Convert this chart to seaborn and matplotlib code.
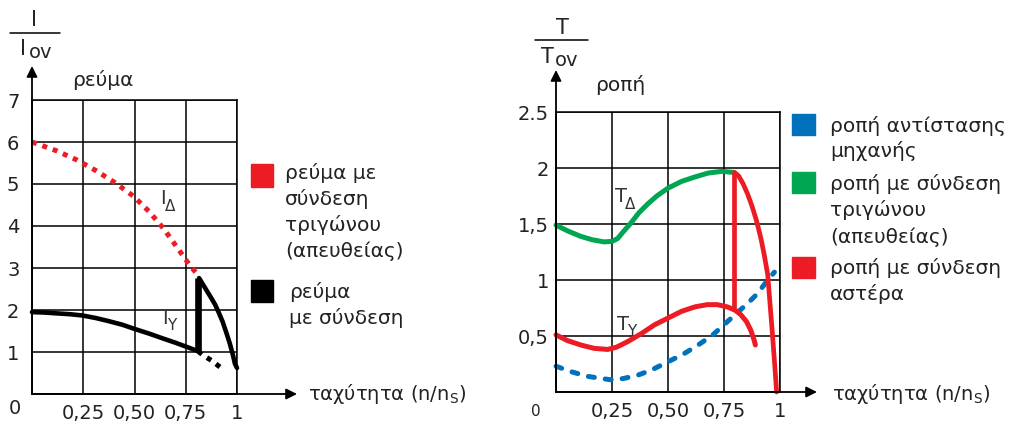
import matplotlib
matplotlib.use('Agg')
import matplotlib.pyplot as plt
from matplotlib.patches import Rectangle
from matplotlib.lines import Line2D
import seaborn as sns

sns.set_style('white')
plt.rcParams['font.family'] = ['DejaVu Sans']
plt.rcParams['mathtext.fontset'] = 'dejavusans'

# --- data ---
# left panel: current
i_delta_x = [0, 0.12, 0.22, 0.315, 0.405, 0.495, 0.57, 0.64, 0.705, 0.77, 0.805]
i_delta_y = [6.0, 5.79, 5.57, 5.31, 5.03, 4.71, 4.35, 3.95, 3.51, 3.06, 2.86]

i_star_x = [0, 0.06, 0.12, 0.185, 0.245, 0.31, 0.37, 0.44, 0.5, 0.57, 0.64, 0.7, 0.75, 0.81]
i_star_y = [1.95, 1.94, 1.92, 1.9, 1.87, 1.81, 1.74, 1.65, 1.55, 1.44, 1.32, 1.22, 1.13, 1.02]
i_jump_x = [0.81, 0.81]
i_jump_y = [1.02, 2.76]
i_fall_x = [0.815, 0.835, 0.855, 0.875, 0.893, 0.91, 0.93, 0.95, 0.965, 0.98, 0.99, 1.0]
i_fall_y = [2.76, 2.6, 2.44, 2.28, 2.13, 1.95, 1.72, 1.43, 1.2, 0.93, 0.72, 0.62]
i_rest_x = [0.81, 0.835, 0.875, 0.92]
i_rest_y = [1.02, 0.92, 0.8, 0.63]

# right panel: torque
t_load_x = [0, 0.07, 0.14, 0.24, 0.3, 0.365, 0.43, 0.5, 0.57, 0.635, 0.7, 0.755,
            0.81, 0.855, 0.9, 0.93, 0.975]
t_load_y = [0.23, 0.18, 0.14, 0.11, 0.12, 0.15, 0.2, 0.27, 0.34, 0.42, 0.51, 0.61,
            0.71, 0.79, 0.88, 0.96, 1.07]

t_delta_x = [0, 0.05, 0.11, 0.16, 0.215, 0.25, 0.275, 0.3, 0.335, 0.37, 0.41, 0.45,
             0.5, 0.56, 0.62, 0.68, 0.74, 0.795]
t_delta_y = [1.49, 1.44, 1.39, 1.36, 1.34, 1.345, 1.37, 1.43, 1.51, 1.6, 1.68, 1.75,
             1.82, 1.88, 1.92, 1.955, 1.97, 1.96]

t_star_x = [0, 0.05, 0.11, 0.17, 0.23, 0.27, 0.32, 0.38, 0.44, 0.5, 0.56, 0.62, 0.675,
            0.72, 0.765, 0.8, 0.825, 0.85, 0.87, 0.885, 0.89]
t_star_y = [0.51, 0.46, 0.42, 0.39, 0.38, 0.4, 0.45, 0.52, 0.6, 0.66, 0.72, 0.76, 0.78,
            0.78, 0.76, 0.73, 0.69, 0.63, 0.55, 0.46, 0.42]
t_jump_x = [0.795, 0.795]
t_jump_y = [0.75, 1.96]
t_fall_x = [0.797, 0.815, 0.835, 0.855, 0.875, 0.895, 0.915, 0.93, 0.945, 0.955,
            0.965, 0.975, 0.985]
t_fall_y = [1.96, 1.93, 1.86, 1.77, 1.66, 1.53, 1.37, 1.22, 1.05, 0.8, 0.55, 0.28, 0.0]

x_ticks = [0, 0.25, 0.5, 0.75, 1]
x_labels = ['', '0,25', '0,50', '0,75', '1']
i_ticks = [0, 1, 2, 3, 4, 5, 6, 7]
i_labels = ['', '1', '2', '3', '4', '5', '6', '7']
t_ticks = [0, 0.5, 1, 1.5, 2, 2.5]
t_labels = ['', '0,5', '1', '1,5', '2', '2.5']

RED = '#ed1c24'
GREEN = '#00a651'
BLUE = '#0072bc'
TXT = '#222222'

W, H = 1030, 424
fig = plt.figure(figsize=(W / 100, H / 100), dpi=100)


def fx(px):
    return px / W


def fy(py):
    return 1 - py / H


def make_axes(x0, y0, x1, y1, yticks, ylabels, ymax, ypad):
    ax = fig.add_axes([fx(x0), fy(y1), (x1 - x0) / W, (y1 - y0) / H])
    ax.set_xlim(0, 1)
    ax.set_ylim(0, ymax)
    ax.set_xticks(x_ticks)
    ax.set_xticklabels(x_labels)
    ax.set_yticks(yticks)
    ax.set_yticklabels(ylabels)
    ax.tick_params(length=0, labelsize=14, colors=TXT)
    ax.tick_params(axis='x', pad=7)
    ax.tick_params(axis='y', pad=ypad)
    ax.grid(True, color='black', lw=1.1)
    for s in ax.spines.values():
        s.set_color('black')
        s.set_linewidth(1.1)
    ax.set_axisbelow(True)
    return ax


def line(ax, x, y, color, lw, dashes=None, cap='butt'):
    l = sns.lineplot(x=x, y=y, ax=ax, color=color, lw=lw, estimator=None,
                     sort=False, legend=False).lines[-1]
    l.set_solid_capstyle(cap)
    l.set_solid_joinstyle('round')
    l.set_clip_on(False)
    if dashes is not None:
        l.set_dashes(dashes)
        l.set_dash_capstyle(cap)
    return l


def arrows(ax, xend, ytop):
    ap = dict(arrowstyle='-|>', lw=1.3, color='black', mutation_scale=16,
              shrinkA=0, shrinkB=0)
    ax.annotate('', xy=(xend, 0), xytext=(0, 0), xycoords='axes fraction',
                arrowprops=ap, annotation_clip=False)
    ax.annotate('', xy=(0, ytop), xytext=(0, 0), xycoords='axes fraction',
                arrowprops=ap, annotation_clip=False)


# ---------------- left panel ----------------
ax1 = make_axes(32, 100, 237, 394, i_ticks, i_labels, 7, 9)
line(ax1, i_delta_x, i_delta_y, RED, 3.6, dashes=(1, 1.2))
line(ax1, i_rest_x, i_rest_y, 'black', 3.6, dashes=(1, 1.2))
line(ax1, i_star_x, i_star_y, 'black', 3.3, cap='round')
line(ax1, i_jump_x, i_jump_y, 'black', 4.8)
line(ax1, i_fall_x, i_fall_y, 'black', 3.3, cap='round')
arrows(ax1, (297 - 32) / 205, (394 - 66) / 294)

fig.text(fx(160), fy(198), 'I', fontsize=14, ha='left', va='center', color='#333333')
fig.text(fx(165), fy(206), 'Δ', fontsize=11, ha='left', va='center', color='#333333')
fig.text(fx(162), fy(318), 'I', fontsize=14, ha='left', va='center', color='#333333')
fig.text(fx(167), fy(326), 'Y', fontsize=11, ha='left', va='center', color='#333333')

fig.text(fx(15), fy(409), '0', fontsize=14, ha='center', va='center', color=TXT)
fig.text(fx(308), fy(394), 'ταχύτητα (n/n$_\\mathregular{S}$)', fontsize=14,
         ha='left', va='center', color=TXT)
fig.text(fx(72), fy(80), 'ρεύμα', fontsize=14.5, ha='left', va='center', color=TXT)

# fraction I / I_ov
fig.text(fx(34), fy(20), 'I', fontsize=15, ha='center', va='center')
fig.add_artist(Line2D([fx(10), fx(60)], [fy(33), fy(33)], color='black', lw=1.1))
fig.text(fx(23), fy(49), 'I', fontsize=15, ha='center', va='center')
fig.text(fx(29), fy(53), 'ov', fontsize=14, ha='left', va='center')

# left legend
fig.add_artist(Rectangle((fx(251), fy(187)), 22 / W, 23 / H, color=RED))
fig.add_artist(Rectangle((fx(251), fy(302)), 22 / W, 22 / H, color='black'))
for txt, yy in [('ρεύμα με', 173), ('σύνδεση', 199), ('τριγώνου', 225),
                ('(απευθείας)', 251)]:
    fig.text(fx(285), fy(yy), txt, fontsize=14.5, ha='left', va='center', color=TXT)
for txt, yy in [('ρεύμα', 292), ('με σύνδεση', 318)]:
    fig.text(fx(289), fy(yy), txt, fontsize=14.5, ha='left', va='center', color=TXT)

# ---------------- right panel ----------------
ax2 = make_axes(556, 112, 780, 392, t_ticks, t_labels, 2.5, 5)
line(ax2, t_load_x, t_load_y, BLUE, 3.6, dashes=(1.2, 2.2), cap='round')
line(ax2, t_delta_x, t_delta_y, GREEN, 3.6, cap='round')
line(ax2, t_star_x, t_star_y, RED, 3.6, cap='round')
line(ax2, t_jump_x, t_jump_y, RED, 3.4)
line(ax2, t_fall_x, t_fall_y, RED, 3.4, cap='round')
arrows(ax2, (817 - 556) / 224, (392 - 70) / 280)

fig.text(fx(615), fy(197), 'T', fontsize=14, ha='left', va='center', color='#333333')
fig.text(fx(625), fy(205), 'Δ', fontsize=11, ha='left', va='center', color='#333333')
fig.text(fx(617), fy(324), 'T', fontsize=14, ha='left', va='center', color='#333333')
fig.text(fx(627), fy(331), 'Y', fontsize=11, ha='left', va='center', color='#333333')

fig.text(fx(536), fy(411), '0', fontsize=11, ha='center', va='center', color=TXT)
fig.text(fx(832), fy(394), 'ταχύτητα (n/n$_\\mathregular{S}$)', fontsize=14,
         ha='left', va='center', color=TXT)
fig.text(fx(595), fy(85), 'ροπή', fontsize=14.5, ha='left', va='center', color=TXT)

fig.text(fx(562), fy(28), 'T', fontsize=15, ha='center', va='center')
fig.add_artist(Line2D([fx(535), fx(588)], [fy(40), fy(40)], color='black', lw=1.1))
fig.text(fx(547), fy(57), 'T', fontsize=15, ha='center', va='center')
fig.text(fx(555), fy(61), 'ov', fontsize=14, ha='left', va='center')

# right legend
fig.add_artist(Rectangle((fx(792), fy(135)), 23 / W, 21 / H, color=BLUE))
fig.add_artist(Rectangle((fx(792), fy(193)), 23 / W, 21 / H, color=GREEN))
fig.add_artist(Rectangle((fx(792), fy(278)), 23 / W, 21 / H, color=RED))
for txt, yy in [('ροπή αντίστασης', 126), ('μηχανής', 151),
                ('ροπή με σύνδεση', 184), ('τριγώνου', 210), ('(απευθείας)', 237),
                ('ροπή με σύνδεση', 268), ('αστέρα', 294)]:
    fig.text(fx(830), fy(yy), txt, fontsize=14.5, ha='left', va='center', color=TXT)

fig.savefig('out.png', dpi=100)
